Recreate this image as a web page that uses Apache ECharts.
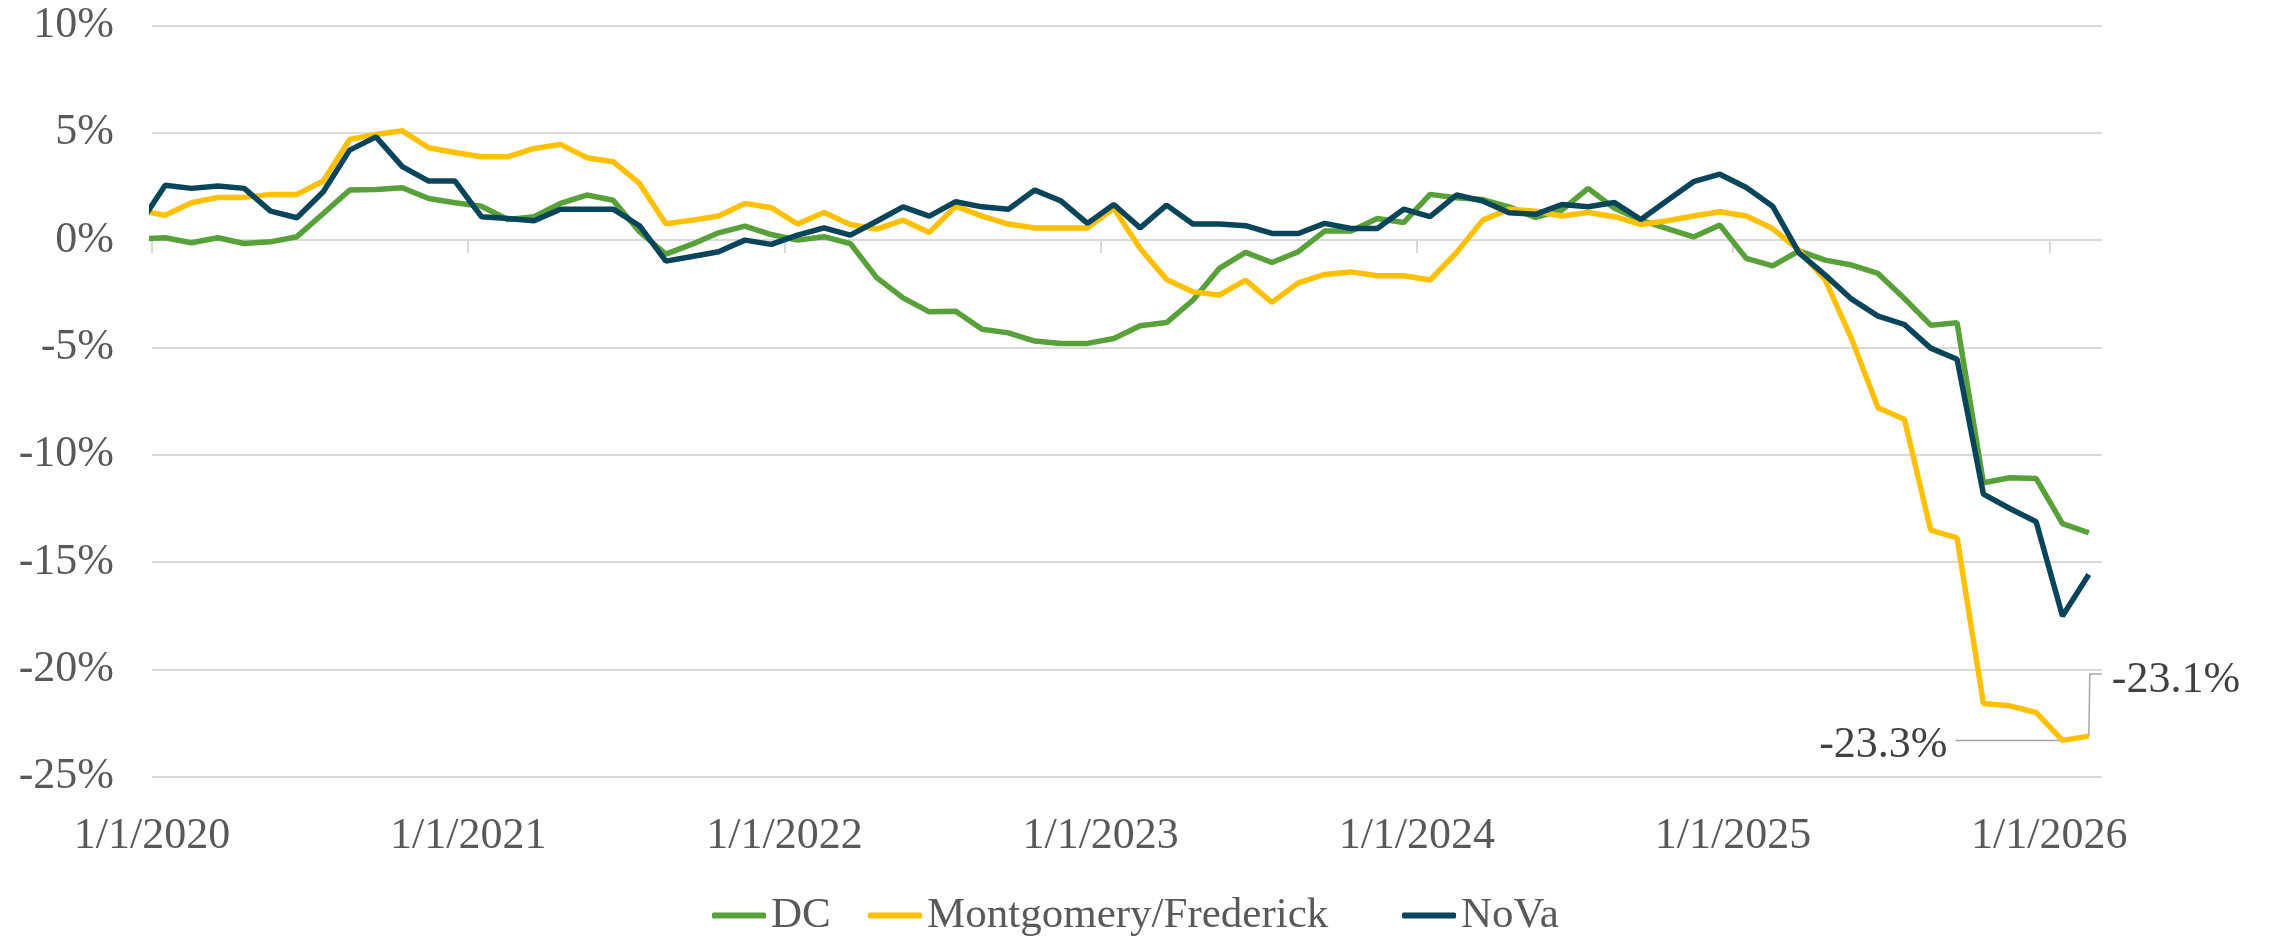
<!DOCTYPE html>
<html>
<head>
<meta charset="utf-8">
<script src="https://cdn.jsdelivr.net/npm/echarts@6/dist/echarts.min.js"></script>
<style>
  html, body { margin: 0; padding: 0; background: #fff; }
  #chart { width: 2269px; height: 944px; }
</style>
</head>
<body>
<div id="chart"></div>
<script>
// monthly points, Dec 2019 .. Feb 2026 (the Dec 2019 point sits left of the axis start and gets clipped)
const dc = [
  0.05, 0.11, -0.12, 0.11, -0.16, -0.08, 0.16, 1.24, 2.33, 2.36, 2.44, 1.94, 1.74,
  1.58, 0.96, 1.09, 1.71, 2.10, 1.86, 0.39, -0.65, -0.19, 0.34, 0.65, 0.26,
  0.00, 0.16, -0.16, -1.75, -2.69, -3.34, -3.31, -4.15, -4.32, -4.70, -4.81, -4.81,
  -4.58, -3.99, -3.84, -2.80, -1.32, -0.57, -1.04, -0.54, 0.42, 0.42, 1.01, 0.82,
  2.13, 1.97, 1.89, 1.55, 1.06, 1.40, 2.41, 1.48, 0.93, 0.54, 0.15, 0.70,
  -0.85, -1.20, -0.50, -0.93, -1.16, -1.55, -2.72, -3.96, -3.85, -11.30, -11.07, -11.10,
  -13.20, -13.63
]
const montFred = [
  1.38, 1.16, 1.74, 1.99, 1.99, 2.13, 2.13, 2.75, 4.69, 4.92, 5.09, 4.30, 4.08,
  3.88, 3.88, 4.27, 4.46, 3.84, 3.65, 2.64, 0.76, 0.93, 1.12, 1.71, 1.51,
  0.75, 1.29, 0.73, 0.51, 0.93, 0.36, 1.58, 1.12, 0.75, 0.57, 0.57, 0.57,
  1.48, -0.39, -1.83, -2.41, -2.56, -1.86, -2.90, -1.99, -1.60, -1.48, -1.66, -1.66,
  -1.86, -0.59, 0.93, 1.44, 1.35, 1.12, 1.29, 1.09, 0.73, 0.90, 1.12, 1.32,
  1.12, 0.54, -0.47, -1.86, -4.60, -7.81, -8.34, -13.51, -13.87, -21.58, -21.69, -22.00,
  -23.3, -23.1
]
const nova = [
  0.70, 2.56, 2.41, 2.52, 2.41, 1.35, 1.04, 2.25, 4.19, 4.81, 3.42, 2.75, 2.75,
  1.09, 1.01, 0.90, 1.44, 1.44, 1.44, 0.67, -0.98, -0.76, -0.54, 0.00, -0.20,
  0.23, 0.57, 0.23, 0.88, 1.55, 1.12, 1.79, 1.55, 1.44, 2.33, 1.82, 0.78,
  1.66, 0.57, 1.63, 0.75, 0.75, 0.67, 0.31, 0.31, 0.78, 0.54, 0.54, 1.44,
  1.09, 2.10, 1.82, 1.27, 1.20, 1.66, 1.55, 1.75, 0.96, 1.84, 2.72, 3.07,
  2.45, 1.58, -0.59, -1.63, -2.75, -3.54, -3.93, -5.03, -5.55, -11.83, -12.50, -13.12,
  -17.51, -15.57
]

const seriesNames = ['DC', 'Montgomery/Frederick', 'NoVa']
const seriesColors = ['#58A03A', '#FFC000', '#08455B']

// x axis counts months from 1/1/2020; ticks sit on the first of each year
const tickMonths = [0, 12, 24, 36, 48, 60, 72]
const tickLabels = ['1/1/2020', '1/1/2021', '1/1/2022', '1/1/2023', '1/1/2024', '1/1/2025', '1/1/2026']

const FONT = 'Liberation Serif'
const GRID = '#D9D9D9'

// each point is plotted mid-month; index 0 is Dec 2019
const toPoints = vals => vals.map((v, i) => [i - 0.5, v])

const chart = echarts.init(document.getElementById('chart'))

// one legend per series so each item lands where the original one does
const legendLefts = [707, 863, 1397]

const option = {
  animation: false,
  grid: { left: 152, top: 25.4, width: 1950, height: 751.5 },
  legend: seriesNames.map((name, k) => ({
    data: [name],
    icon: 'roundRect',
    left: legendLefts[k],
    top: 889,
    itemWidth: 54,
    itemHeight: 6,
    textStyle: { fontFamily: FONT, fontSize: 43, color: '#595959' }
  })),
  xAxis: [
    {
      type: 'value',
      min: 0,
      max: 74,
      position: 'bottom',
      axisLine: { show: false, onZero: false },
      axisTick: { show: false },
      splitLine: { show: false },
      axisLabel: {
        customValues: tickMonths,
        formatter: v => tickLabels[tickMonths.indexOf(v)] || '',
        fontFamily: FONT,
        fontSize: 44,
        color: '#595959',
        margin: 38
      }
    },
    {
      // second axis only to draw the line and ticks on the 0% level
      type: 'value',
      min: 0,
      max: 74,
      position: 'bottom',
      axisLine: { show: true, onZero: true, lineStyle: { color: GRID, width: 2 } },
      axisTick: { show: true, customValues: tickMonths, length: 13, lineStyle: { color: GRID, width: 2 } },
      axisLabel: { show: false },
      splitLine: { show: false }
    }
  ],
  yAxis: {
    type: 'value',
    min: -25,
    max: 10,
    interval: 5,
    axisLine: { show: false },
    axisTick: { show: false },
    splitLine: { lineStyle: { color: GRID, width: 2 } },
    axisLabel: {
      formatter: '{value}%',
      fontFamily: FONT,
      fontSize: 44,
      color: '#595959',
      margin: 38
    }
  },
  series: [dc, montFred, nova].map((vals, k) => ({
    name: seriesNames[k],
    type: 'line',
    xAxisIndex: 0,
    data: toPoints(vals),
    symbol: 'none',
    clip: true,
    color: seriesColors[k],
    lineStyle: { width: 5.5, color: seriesColors[k] }
  }))
}

chart.setOption(option)

// data callouts on the last two Montgomery/Frederick points
const n = montFred.length
const pA = chart.convertToPixel({ gridIndex: 0 }, toPoints(montFred)[n - 2])
const pB = chart.convertToPixel({ gridIndex: 0 }, toPoints(montFred)[n - 1])
const fmt = v => v.toFixed(1) + '%'
const callout = { stroke: '#A6A6A6', lineWidth: 1.5, fill: null }
const calloutText = { fontFamily: FONT, fontSize: 44, fill: '#404040' }

chart.setOption({
  graphic: [
    {
      type: 'line',
      shape: { x1: pA[0] - 107, y1: pA[1], x2: pA[0], y2: pA[1] },
      style: callout
    },
    {
      type: 'text',
      x: pA[0] - 115,
      y: pA[1] + 5,
      style: Object.assign({ text: fmt(montFred[n - 2]), align: 'right', verticalAlign: 'middle' }, calloutText)
    },
    {
      type: 'polyline',
      shape: { points: [[pB[0], pB[1]], [pB[0] + 1, pB[1] - 62], [pB[0] + 13, pB[1] - 62]] },
      style: callout
    },
    {
      type: 'text',
      x: pB[0] + 23,
      y: pB[1] - 56,
      style: Object.assign({ text: fmt(montFred[n - 1]), align: 'left', verticalAlign: 'middle' }, calloutText)
    }
  ]
})
</script>
</body>
</html>
